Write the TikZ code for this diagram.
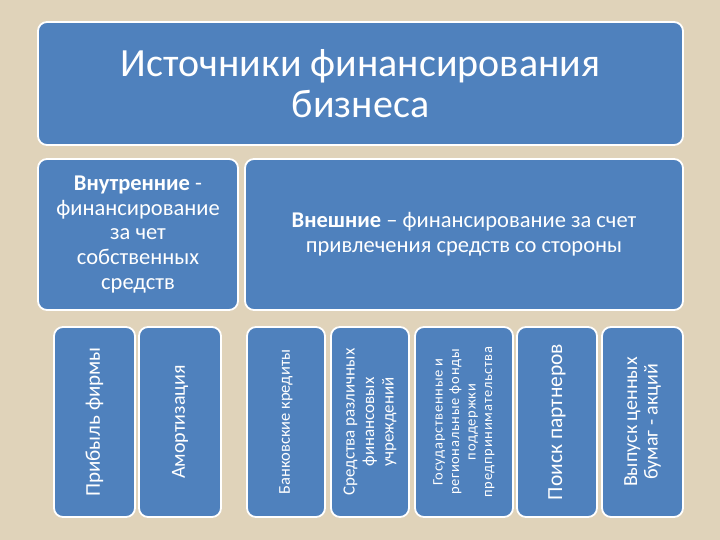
\documentclass[tikz,border=0pt]{standalone}
\usepackage{fontspec}
\setmainfont{Carlito}
\usetikzlibrary{positioning}
\definecolor{slideblue}{HTML}{4F81BD}
\definecolor{linen}{HTML}{E0D3BA}

\begin{document}
\begin{tikzpicture}[
    x=1pt, y=-1pt,
    box/.style={rectangle, draw=white, line width=1.8pt, fill=slideblue, rounded corners=9pt, text=white, align=center, inner sep=2pt},
    vbox/.style={box, rotate=90, minimum width=190pt}
]
\fill[linen] (0,0) rectangle (720,540);

\node[box, minimum width=645pt, minimum height=123pt, font=\fontsize{40}{41}\selectfont] (title) at (360.5,83.5) {Источники финансирования\\бизнеса};
\node[box, minimum width=200pt, minimum height=151pt, font=\fontsize{22.5}{24.8}\selectfont] (inner) at (138,234.5) {\textbf{Внутренние} -\\финансирование\\за чет\\собственных\\средств};
\node[box, minimum width=438pt, minimum height=151pt, font=\fontsize{22.5}{25}\selectfont] (outer) at (464,234.5) {\textbf{Внешние} – финансирование за счет\\привлечения средств со стороны};

\node[vbox, minimum height=81pt, font=\fontsize{21}{22}\selectfont] (profit) at (94.5,422) {Прибыль фирмы};
\node[vbox, minimum height=82pt, font=\fontsize{20}{22}\selectfont] (amort) at (180,422) {Амортизация};
\node[vbox, minimum height=78pt, font=\fontsize{16.5}{18}\selectfont] (bank) at (286,422) {Банковские кредиты};
\node[vbox, minimum height=78pt, font=\fontsize{17}{19.5}\selectfont] (funds) at (370,422) {Средства различных\\финансовых\\учреждений};
\node[vbox, minimum height=98pt, font=\fontsize{14.5}{16.5}\selectfont\addfontfeature{LetterSpace=5}] (state) at (464,422) {Государственные и\\региональные фонды\\поддержки\\предпринимательства};
\node[vbox, minimum height=80pt, font=\fontsize{21.5}{22}\selectfont] (partners) at (557,422) {Поиск партнеров};
\node[vbox, minimum height=81pt, font=\fontsize{20}{20.5}\selectfont] (shares) at (642.5,422) {Выпуск ценных\\бумаг - акций};
\end{tikzpicture}
\end{document}
